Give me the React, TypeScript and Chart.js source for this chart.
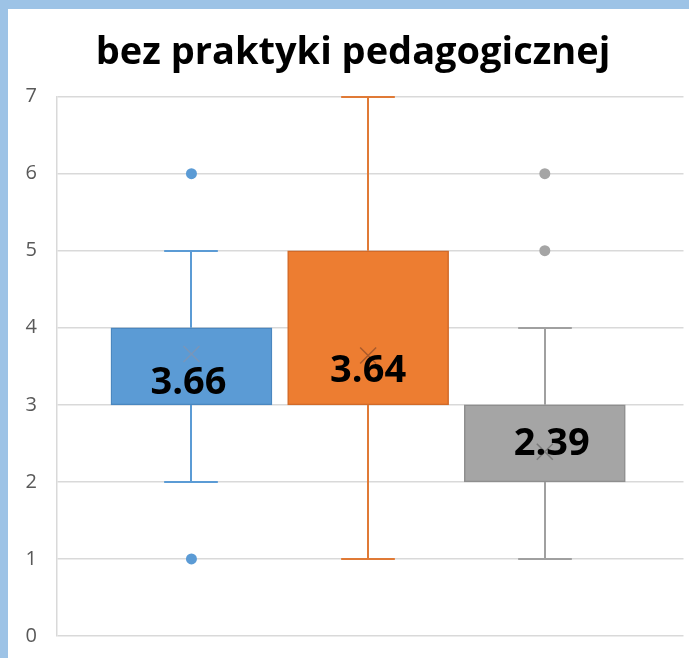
import React, { useEffect, useRef } from 'react';
import { Chart, registerables } from 'chart.js';

Chart.register(...registerables);

// ---------- data ----------
const chartTitle = 'bez praktyki pedagogicznej';
const seriesNames = ['Seria 1', 'Seria 2', 'Seria 3'];
const q1 = [3, 3, 2];
const q3 = [4, 5, 3];
const whiskerLow = [2, 1, 1];
const whiskerHigh = [5, 7, 4];
const means = [3.66, 3.64, 2.39];
const meanLabels = ['3.66', '3.64', '2.39'];
const outliers: number[][] = [[1, 6], [], [5, 6]];
const yMin = 0;
const yMax = 7;
const yStep = 1;

// ---------- styles ----------
const fillColors = ['#5B9BD5', '#ED7D31', '#A5A5A5'];
const borderColors = ['#4A87C0', '#D26A28', '#8E8E8E'];
const whiskerColors = ['#5B9BD5', '#E07A36', '#A0A0A0'];
const meanColors = ['#7896BA', '#A85A2C', '#7A7A7A'];
const labelOffsets = [
  { dx: -3, dy: 29 },
  { dx: 0, dy: 16 },
  { dx: 7, dy: -8 },
];
const FONT = '"Open Sans", "DejaVu Sans", sans-serif';
const BOX_WIDTH = 161;

const boxExtras = {
  id: 'boxExtras',
  beforeDatasetsDraw(chart: any) {
    const { ctx } = chart;
    const x = chart.scales.x;
    const y = chart.scales.y;
    ctx.save();
    seriesNames.forEach((_, i) => {
      const px = Math.round(x.getPixelForValue(i + 1));
      const cap = BOX_WIDTH / 3;
      const yHi = Math.round(y.getPixelForValue(whiskerHigh[i]));
      const yLo = Math.round(y.getPixelForValue(whiskerLow[i]));
      ctx.strokeStyle = whiskerColors[i];
      ctx.lineWidth = 2;
      ctx.beginPath();
      ctx.moveTo(px, y.getPixelForValue(q3[i]));
      ctx.lineTo(px, yHi);
      ctx.moveTo(px, y.getPixelForValue(q1[i]));
      ctx.lineTo(px, yLo);
      ctx.moveTo(px - cap / 2, yHi);
      ctx.lineTo(px + cap / 2, yHi);
      ctx.moveTo(px - cap / 2, yLo);
      ctx.lineTo(px + cap / 2, yLo);
      ctx.stroke();
    });
    ctx.restore();
  },
  afterDatasetsDraw(chart: any) {
    const { ctx } = chart;
    const x = chart.scales.x;
    const y = chart.scales.y;
    ctx.save();
    seriesNames.forEach((_, i) => {
      const px = x.getPixelForValue(i + 1);
      const py = y.getPixelForValue(means[i]);
      const s = 8;
      ctx.strokeStyle = meanColors[i];
      ctx.lineWidth = 1.5;
      ctx.beginPath();
      ctx.moveTo(px - s, py - s);
      ctx.lineTo(px + s, py + s);
      ctx.moveTo(px + s, py - s);
      ctx.lineTo(px - s, py + s);
      ctx.stroke();
    });
    seriesNames.forEach((_, i) => {
      const px = x.getPixelForValue(i + 1);
      const py = y.getPixelForValue(means[i]);
      ctx.fillStyle = '#000000';
      ctx.font = `bold 38px ${FONT}`;
      ctx.textAlign = 'center';
      ctx.textBaseline = 'middle';
      ctx.fillText(meanLabels[i], px + labelOffsets[i].dx, py + labelOffsets[i].dy);
    });
    ctx.restore();
  },
};

export default function App() {
  const ref = useRef<HTMLCanvasElement | null>(null);

  useEffect(() => {
    if (!ref.current) return;
    const boxData = seriesNames.map((_, i) => ({ x: i + 1, y: [q1[i], q3[i]] }));
    const outlierPoints: { x: number; y: number }[] = [];
    const outlierColors: string[] = [];
    outliers.forEach((list, i) => {
      list.forEach((v) => {
        outlierPoints.push({ x: i + 1, y: v });
        outlierColors.push(fillColors[i]);
      });
    });

    const chart = new Chart(ref.current, {
      type: 'bar',
      data: {
        datasets: [
          {
            type: 'scatter',
            data: outlierPoints,
            pointBackgroundColor: outlierColors,
            pointBorderColor: outlierColors,
            pointRadius: 5.5,
            pointBorderWidth: 0,
            order: 0,
          } as any,
          {
            type: 'bar',
            data: boxData as any,
            backgroundColor: fillColors,
            borderColor: borderColors,
            borderWidth: 1.5,
            borderSkipped: false,
            barThickness: BOX_WIDTH,
            order: 1,
          } as any,
        ],
      },
      options: {
        responsive: false,
        animation: false,
        devicePixelRatio: 1,
        layout: { padding: { left: 9, right: 0, top: 0, bottom: 22 } },
        plugins: {
          legend: { display: false },
          tooltip: { enabled: false },
          title: {
            display: true,
            text: chartTitle,
            color: '#000000',
            font: { family: FONT, size: 38, weight: 'bold', lineHeight: 1.2 },
            padding: { top: 21, bottom: 21 },
          },
        },
        scales: {
          x: {
            type: 'linear',
            display: false,
            min: 0.239,
            max: 3.785,
            offset: false,
            ticks: { display: false },
            grid: { display: false, drawTicks: false },
            afterFit: (scale: any) => {
              scale.height = 0;
              scale.paddingLeft = 0;
              scale.paddingRight = 0;
            },
          },
          y: {
            min: yMin,
            max: yMax,
            afterFit: (scale: any) => {
              scale.width = 40;
              scale.paddingTop = 0;
              scale.paddingBottom = 0;
            },
            ticks: {
              stepSize: yStep,
              color: '#595959',
              padding: 20,
              font: { family: FONT, size: 20 },
            },
            grid: {
              color: '#D9D9D9',
              lineWidth: 1.5,
              drawTicks: false,
            },
            border: { display: true, color: '#D9D9D9', width: 1.5 },
          },
        },
      },
      plugins: [boxExtras],
    });
    return () => chart.destroy();
  }, []);

  return (
    <div
      style={{
        position: 'fixed',
        left: 0,
        top: 0,
        width: 689,
        height: 658,
        background: '#9DC3E6',
        overflow: 'hidden',
      }}
    >
      <div
        style={{
          position: 'absolute',
          left: 8,
          top: 9,
          width: 681,
          height: 649,
          background: '#FFFFFF',
        }}
      >
        <canvas ref={ref} width={681} height={649} style={{ display: 'block' }} />
      </div>
    </div>
  );
}
